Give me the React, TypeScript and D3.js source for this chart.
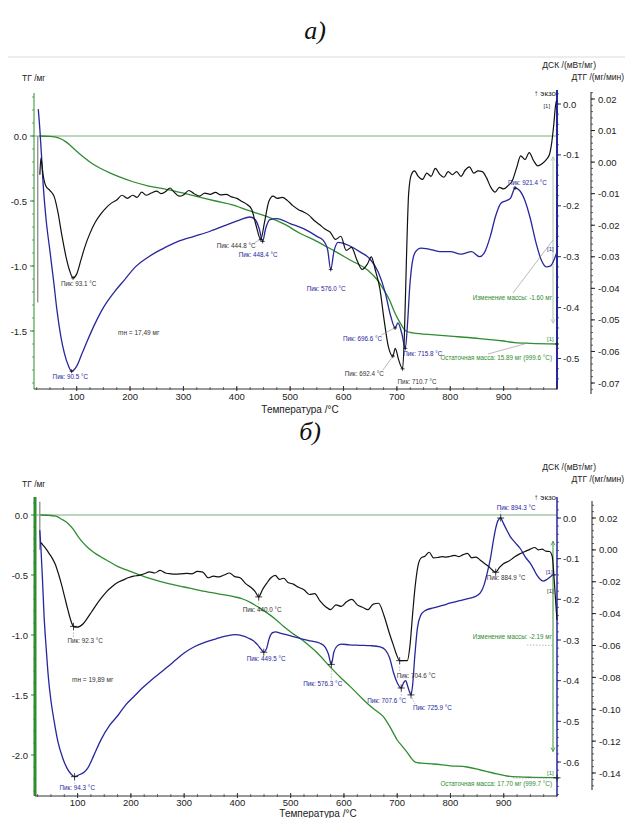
import React from "react";
import * as d3 from "d3";

type Pt = [number, number];

const FONT = "'Liberation Sans', Arial, Helvetica, sans-serif";
const GREEN = "#2f8c2f";
const GREEN_LIGHT = "#78b078";
const BLUE = "#27279c";
const BLACK = "#111111";
const GREY = "#8c8c8c";

// temperature axis (shared)
const tempDomain: Pt = [20, 1000];
const tempTicks = [100, 200, 300, 400, 500, 600, 700, 800, 900];

// ---------------- panel а) ----------------
const aTg: Pt[] = [
  [30, 0], [50, -0.003], [66, -0.015], [80, -0.045], [98, -0.11], [115, -0.17], [128, -0.21],
  [145, -0.25], [160, -0.28], [180, -0.315], [204, -0.35], [235, -0.385], [268, -0.41],
  [300, -0.44], [330, -0.47], [360, -0.5], [392, -0.53], [420, -0.57], [457, -0.62],
  [490, -0.68], [519, -0.75], [550, -0.81], [581, -0.88], [615, -0.96], [645, -1.03],
  [662, -1.1], [675, -1.18], [686, -1.26], [694, -1.34], [705, -1.43], [717, -1.5],
  [730, -1.515], [770, -1.53], [800, -1.54], [834, -1.55], [870, -1.565], [896, -1.575],
  [921, -1.59], [950, -1.595], [1000, -1.6],
];
const aDsc: Pt[] = [
  [28, -0.01], [31, -0.05], [34, -0.1], [37, -0.155], [42, -0.22], [50, -0.29], [57, -0.35],
  [63, -0.405], [70, -0.455], [77, -0.49], [84, -0.513], [90.5, -0.525], [100, -0.515],
  [110, -0.49], [120, -0.465], [135, -0.43], [150, -0.4], [170, -0.37], [190, -0.345],
  [210, -0.32], [235, -0.3], [260, -0.285], [290, -0.27], [320, -0.26], [350, -0.25],
  [380, -0.238], [405, -0.228], [425, -0.222], [435, -0.228], [442, -0.245], [448.4, -0.27],
  [454, -0.245], [462, -0.227], [475, -0.225], [500, -0.235], [525, -0.245], [550, -0.26],
  [562, -0.268], [570, -0.285], [576, -0.325], [582, -0.29], [590, -0.272], [610, -0.278],
  [630, -0.29], [650, -0.305], [665, -0.33], [678, -0.37], [688, -0.415], [696.6, -0.44],
  [702, -0.43], [709, -0.45], [715.8, -0.48], [720, -0.43], [724, -0.36], [729, -0.31],
  [735, -0.29], [745, -0.283], [760, -0.285], [780, -0.29], [800, -0.29], [820, -0.295],
  [840, -0.29], [855, -0.3], [865, -0.29], [875, -0.26], [885, -0.22], [895, -0.195],
  [905, -0.19], [913, -0.185], [921.4, -0.165], [930, -0.17], [940, -0.19], [950, -0.225],
  [960, -0.27], [970, -0.305], [980, -0.32], [988, -0.318], [995, -0.305], [1000, -0.29],
];
const aDtg: Pt[] = [
  [31, -0.004], [33, 0.0013], [37, -0.004], [42, -0.0075], [50, -0.009], [58, -0.011],
  [65, -0.016], [72, -0.023], [80, -0.03], [87, -0.0345], [93.1, -0.0367], [100, -0.0355],
  [108, -0.031], [115, -0.027], [125, -0.0225], [135, -0.019], [145, -0.0165], [155, -0.0145],
  [165, -0.013], [175, -0.012], [185, -0.0105], [195, -0.0115], [205, -0.0105], [213, -0.0112],
  [222, -0.0095], [230, -0.0105], [240, -0.0098], [250, -0.0092], [258, -0.01], [266, -0.0094],
  [275, -0.0082], [283, -0.0096], [292, -0.0108], [300, -0.0104], [310, -0.009], [320, -0.01],
  [330, -0.0108], [340, -0.0098], [350, -0.0102], [360, -0.0096], [370, -0.0104], [380, -0.0102],
  [390, -0.011], [400, -0.0115], [410, -0.0125], [420, -0.0135], [428, -0.015], [436, -0.02],
  [444.8, -0.0245], [452, -0.019], [460, -0.0125], [468, -0.0108], [476, -0.0115], [485, -0.0112],
  [495, -0.0122], [505, -0.0138], [515, -0.015], [525, -0.0158], [535, -0.0168], [545, -0.0185],
  [555, -0.0198], [565, -0.0212], [575, -0.0222], [585, -0.0245], [595, -0.0235], [605, -0.028],
  [615, -0.027], [625, -0.031], [635, -0.034], [645, -0.0322], [652, -0.03], [660, -0.0345],
  [668, -0.04], [676, -0.05], [684, -0.0585], [692.4, -0.0615], [697, -0.059], [703, -0.0625],
  [710.7, -0.0655], [714, -0.055], [718, -0.03], [722, -0.01], [727, -0.004], [733, -0.0028],
  [740, -0.0045], [748, -0.0055], [756, -0.0035], [764, -0.0045], [772, -0.002], [780, -0.0038],
  [788, -0.0048], [796, -0.003], [804, -0.004], [812, -0.003], [820, -0.0045], [828, -0.0025],
  [836, -0.0015], [844, -0.0035], [852, -0.0028], [860, -0.003], [868, -0.005], [876, -0.008],
  [884, -0.0095], [892, -0.008], [900, -0.0085], [908, -0.0075], [916, -0.006], [924, -0.002],
  [932, 0.002], [940, 0.0008], [948, 0.003], [956, 0.0005], [964, -0.0012], [972, -0.0005],
  [980, 0.0008], [986, 0.0025], [990, 0.006], [994, 0.012], [997, 0.0175], [999, 0.0195],
];
const aStartLine: Pt = [0, -1.28];
const aDscPeaks = [90.5, 448.4, 576.0, 696.6, 715.8, 921.4];
const aDtgPeaks = [93.1, 444.8, 692.4, 710.7];
const aTgTicks = [0, -0.5, -1.0, -1.5];
const aDscTicks = [0, -0.1, -0.2, -0.3, -0.4, -0.5];
const aDtgTicks = [0.02, 0.01, 0, -0.01, -0.02, -0.03, -0.04, -0.05, -0.06, -0.07];
const aMassStart = "17,49";
const aMassChange = -1.6;
const aResidualMass = 15.89;
const aResidualTemp = 999.6;

// ---------------- panel б) ----------------
const bTg: Pt[] = [
  [30, 0], [45, -0.002], [59, -0.01], [70, -0.035], [82, -0.07], [92, -0.12], [101, -0.18],
  [110, -0.23], [119, -0.27], [130, -0.31], [144, -0.35], [160, -0.39], [176, -0.43],
  [190, -0.455], [205, -0.48], [220, -0.505], [237, -0.53], [269, -0.57], [300, -0.6],
  [331, -0.63], [362, -0.655], [393, -0.68], [410, -0.7], [425, -0.73], [440, -0.77],
  [457, -0.82], [472, -0.87], [487, -0.93], [503, -0.985], [518, -1.03], [535, -1.09],
  [550, -1.15], [575, -1.27], [595, -1.36], [612, -1.43], [630, -1.51], [644, -1.57],
  [660, -1.63], [674, -1.68], [687, -1.77], [700, -1.875], [710, -1.93], [719, -1.98],
  [727, -2.03], [734, -2.06], [745, -2.068], [768, -2.075], [800, -2.09], [831, -2.1],
  [856, -2.125], [880, -2.15], [906, -2.175], [930, -2.183], [955, -2.186], [1000, -2.19],
];
const bDsc: Pt[] = [
  [29, -0.03], [31, -0.07], [34, -0.15], [37, -0.24], [41, -0.32], [45, -0.39], [50, -0.45],
  [56, -0.5], [63, -0.55], [72, -0.59], [80, -0.615], [88, -0.63], [94.3, -0.636],
  [102, -0.632], [112, -0.625], [119, -0.615], [130, -0.585], [144, -0.545], [160, -0.51],
  [176, -0.485], [190, -0.46], [205, -0.44], [220, -0.42], [237, -0.4], [253, -0.383],
  [269, -0.366], [285, -0.348], [300, -0.332], [320, -0.316], [340, -0.305], [360, -0.297],
  [380, -0.29], [395, -0.287], [410, -0.29], [420, -0.295], [430, -0.302], [438, -0.312],
  [444, -0.322], [449.5, -0.33], [455, -0.32], [460, -0.295], [466, -0.282], [472, -0.28],
  [480, -0.283], [500, -0.29], [520, -0.297], [540, -0.303], [555, -0.308], [565, -0.318],
  [571, -0.335], [576.3, -0.36], [581, -0.33], [587, -0.315], [595, -0.31], [610, -0.312],
  [630, -0.313], [650, -0.314], [668, -0.317], [678, -0.325], [686, -0.345], [693, -0.38],
  [700, -0.405], [707.6, -0.418], [712, -0.405], [716, -0.4], [720, -0.415], [725.9, -0.435],
  [729, -0.41], [733, -0.34], [738, -0.27], [744, -0.24], [752, -0.228], [768, -0.221],
  [785, -0.215], [800, -0.209], [815, -0.204], [831, -0.199], [845, -0.194], [856, -0.184],
  [863, -0.165], [869, -0.135], [875, -0.1], [880, -0.06], [885, -0.025], [889, -0.007],
  [894.3, 0], [899, -0.012], [905, -0.028], [912, -0.045], [921, -0.06], [931, -0.075],
  [940, -0.095], [949, -0.11], [956, -0.125], [962, -0.14], [968, -0.15], [974, -0.155],
  [980, -0.152], [987, -0.145], [993, -0.14], [998, -0.14],
];
const bDtg: Pt[] = [
  [31, 0.0045], [35, 0.003], [40, 0.001], [46, -0.002], [52, -0.005], [58, -0.009],
  [64, -0.015], [70, -0.022], [76, -0.03], [82, -0.038], [87, -0.044], [92.3, -0.048],
  [98, -0.0485], [104, -0.048], [110, -0.0465], [118, -0.043], [126, -0.039], [135, -0.0345],
  [145, -0.03], [155, -0.026], [165, -0.023], [175, -0.0205], [185, -0.019], [195, -0.0175],
  [205, -0.0165], [215, -0.016], [225, -0.015], [235, -0.0138], [245, -0.0145], [255, -0.0128],
  [265, -0.0145], [275, -0.015], [285, -0.0152], [295, -0.015], [305, -0.0148], [315, -0.015],
  [325, -0.0135], [335, -0.014], [345, -0.0175], [355, -0.0165], [365, -0.017], [375, -0.0158],
  [385, -0.0145], [395, -0.0168], [405, -0.0175], [415, -0.021], [425, -0.0235], [433, -0.026],
  [440, -0.0295], [447, -0.025], [455, -0.021], [463, -0.0175], [471, -0.016], [479, -0.0185],
  [487, -0.0178], [495, -0.0205], [505, -0.0215], [515, -0.0235], [525, -0.025], [535, -0.028],
  [545, -0.0275], [555, -0.032], [565, -0.0355], [575, -0.0375], [585, -0.0345], [595, -0.0355],
  [605, -0.0325], [615, -0.031], [625, -0.0345], [635, -0.036], [645, -0.0375], [655, -0.034],
  [665, -0.0335], [675, -0.041], [685, -0.052], [692, -0.059], [698, -0.065], [704.6, -0.0695],
  [712, -0.0695], [719, -0.0695], [724, -0.06], [729, -0.04], [734, -0.022], [739, -0.01],
  [745, -0.005], [752, -0.004], [760, -0.0015], [768, -0.005], [776, -0.0048], [784, -0.0042],
  [792, -0.0045], [800, -0.004], [808, -0.0035], [816, -0.0042], [824, -0.003], [832, -0.0022],
  [840, -0.005], [848, -0.0045], [856, -0.0065], [864, -0.0085], [872, -0.0105], [878, -0.0125],
  [884.9, -0.014], [892, -0.011], [900, -0.0085], [910, -0.007], [920, -0.0045], [930, -0.0025],
  [940, -0.001], [950, 0.0005], [958, 0.0015], [965, 0], [972, 0.0005], [979, -0.0008],
  [986, -0.001], [991, -0.004], [995, -0.02], [998, -0.035], [1000, -0.044],
];
const bStartLine: Pt = [0.11, -0.29];
const bDscPeaks = [94.3, 449.5, 576.3, 707.6, 725.9, 894.3];
const bDtgPeaks = [92.3, 440.0, 704.6, 884.9];
const bTgTicks = [0, -0.5, -1.0, -1.5, -2.0];
const bDscTicks = [0, -0.1, -0.2, -0.3, -0.4, -0.5, -0.6];
const bDtgTicks = [0.02, 0, -0.02, -0.04, -0.06, -0.08, -0.1, -0.12, -0.14];
const bMassStart = "19,89";
const bMassChange = -2.19;
const bResidualMass = 17.7;
const bResidualTemp = 999.7;

// label layout (offsets from the peak, px)
const aDscLabelOff: Pt[] = [[-19, 8], [-24, 16], [-24, 22], [-52, 13], [-2, 8], [-7, -3]];
const aDscLeader = [false, false, false, true, false, true];
const aDtgLabelOff: Pt[] = [[-12, 8], [-44, 9], [-48, 20], [-5, 15]];
const aDtgLeader = [false, true, true, false];
const bDscLabelOff: Pt[] = [[-15, 13], [-17, 9], [-28, 22], [-34, 15], [2, 15], [-4, -8]];
const bDscLeader = [true, false, true, true, true, true];
const bDtgLabelOff: Pt[] = [[-6, 17], [-16, 15], [-3, 17], [-9, 8]];
const bDtgLeader = [true, true, true, true];

function valueAt(pts: Pt[], t: number) {
  const i = d3.bisector((d: Pt) => d[0]).left(pts, t);
  if (i <= 0) return pts[0][1];
  if (i >= pts.length) return pts[pts.length - 1][1];
  const [t0, v0] = pts[i - 1];
  const [t1, v1] = pts[i];
  return t1 === t0 ? v1 : v0 + ((v1 - v0) * (t - t0)) / (t1 - t0);
}

function steps(lo: number, hi: number, step: number) {
  const a = Math.ceil(lo / step - 1e-6);
  const b = Math.floor(hi / step + 1e-6);
  return d3.range(a, b + 1).map((k) => k * step);
}

function Panel(p: any) {
  const x = d3.scaleLinear().domain(tempDomain).range([p.left, p.right]);
  const tg = d3.scaleLinear().domain(p.tgDom).range(p.tgRange);
  const dsc = d3.scaleLinear().domain(p.dscDom).range(p.dscRange);
  const dtg = d3.scaleLinear().domain(p.dtgDom).range(p.dtgRange);
  const mk = (sc: any) =>
    d3.line<Pt>().x((d) => x(d[0])).y((d) => sc(d[1])).curve(d3.curveMonotoneX);

  const peakLabels = (peaks: number[], pts: Pt[], sc: any, off: Pt[], lead: boolean[], color: string, dash: string) =>
    peaks.map((t, i) => {
      const px = x(t);
      const py = sc(valueAt(pts, t));
      const lx = px + off[i][0];
      const ly = py + off[i][1];
      const cx = Math.max(lx + 2, Math.min(lx + 38, px));
      const cy = off[i][1] > 0 ? ly - 6 : ly + 1;
      return (
        <g key={"pk" + t}>
          {lead[i] && (
            <line x1={px} y1={py} x2={cx} y2={cy} stroke={GREY} strokeWidth={0.6} strokeDasharray={dash} />
          )}
          <path d={`M${px - p.plus},${py}H${px + p.plus}M${px},${py - p.plus}V${py + p.plus}`} stroke={BLACK} strokeWidth={0.8} />
          <text x={lx} y={ly} fontSize={6.3} fill={color} fontFamily={FONT}>{`Пик: ${t.toFixed(1)} °C`}</text>
        </g>
      );
    });

  // axis ticks
  const tgMinor = steps(tg.invert(p.bottom), tg.invert(p.top), 0.1);
  const dscMinor = steps(dsc.invert(p.bottom), dsc.invert(p.dscTop), 0.02);
  const dtgMinor = steps(dtg.invert(p.dtgBottom), dtg.invert(p.dtgTop), p.dtgMinor);
  const tMinor = steps(tempDomain[0], tempDomain[1], 25);
  const arrowTop = tg(p.massChange * 0.1);
  const arrowBot = tg(p.massChange * 0.9);
  const ax = p.right - 4;
  const tgEnd = p.tg[p.tg.length - 1];
  const dscEnd = p.dsc[p.dsc.length - 1];
  const dtgEnd = p.dtg[p.dtg.length - 1];

  return (
    <g>
      {/* header */}
      <text x={p.headerX} y={p.headerY} fontSize={26} fontStyle="italic" fontFamily="'Liberation Serif', 'DejaVu Serif', serif" textAnchor="middle" fill="#111">{p.header}</text>
      {/* axis titles */}
      <text x={22} y={p.tgTitleY} fontSize={8.5} fontFamily={FONT} fill="#222">ТГ /мг</text>
      <text x={596} y={p.dscTitleY} fontSize={8.5} fontFamily={FONT} fill="#222" textAnchor="end">ДСК /(мВт/мг)</text>
      <text x={624} y={p.dscTitleY + 12} fontSize={8.5} fontFamily={FONT} fill="#222" textAnchor="end">ДТГ /(мг/мин)</text>
      <text x={p.right - 1} y={p.exoY} fontSize={8} fontFamily={FONT} fill="#222" textAnchor="end">↑ экзо</text>

      {/* zero line of TG */}
      <line x1={p.left} x2={p.right} y1={tg(0)} y2={tg(0)} stroke={GREEN_LIGHT} strokeWidth={1} />

      {/* left TG axis */}
      <line x1={p.left} x2={p.left} y1={p.top} y2={p.bottom} stroke={GREEN} strokeWidth={p.tgAxisW} />
      {tgMinor.map((v) => (
        <line key={"tgm" + v} x1={p.left} x2={p.left - 2} y1={tg(v)} y2={tg(v)} stroke={GREEN} strokeWidth={0.7} />
      ))}
      {p.tgTicks.map((v: number) => (
        <g key={"tg" + v}>
          <line x1={p.left} x2={p.left - 4} y1={tg(v)} y2={tg(v)} stroke={GREEN} strokeWidth={1} />
          <text x={p.left - 7} y={tg(v) + 3.5} fontSize={9.5} fontFamily={FONT} fill="#222" textAnchor="end">{v.toFixed(1)}</text>
        </g>
      ))}

      {/* DSC axis */}
      <line x1={p.right} x2={p.right} y1={p.dscTop} y2={p.bottom} stroke={BLUE} strokeWidth={p.dscAxisW} />
      {dscMinor.map((v) => (
        <line key={"dm" + v} x1={p.right} x2={p.right + 2} y1={dsc(v)} y2={dsc(v)} stroke={BLUE} strokeWidth={0.7} />
      ))}
      {p.dscTicks.map((v: number) => (
        <g key={"ds" + v}>
          <line x1={p.right} x2={p.right + 4} y1={dsc(v)} y2={dsc(v)} stroke={BLUE} strokeWidth={1} />
          <text x={p.right + 6} y={dsc(v) + 3.5} fontSize={9.5} fontFamily={FONT} fill="#222">{v.toFixed(1)}</text>
        </g>
      ))}

      {/* DTG axis */}
      <line x1={p.dtgX} x2={p.dtgX} y1={p.dtgTop} y2={p.dtgBottom} stroke="#222" strokeWidth={1} />
      {dtgMinor.map((v) => (
        <line key={"tm" + v} x1={p.dtgX} x2={p.dtgX + 2} y1={dtg(v)} y2={dtg(v)} stroke="#222" strokeWidth={0.7} />
      ))}
      {p.dtgTicks.map((v: number) => (
        <g key={"dt" + v}>
          <line x1={p.dtgX} x2={p.dtgX + 4} y1={dtg(v)} y2={dtg(v)} stroke="#222" strokeWidth={1} />
          <text x={p.dtgX + 7} y={dtg(v) + 3.5} fontSize={9.5} fontFamily={FONT} fill="#222">{v.toFixed(2)}</text>
        </g>
      ))}

      {/* temperature axis */}
      <line x1={p.left} x2={p.right} y1={p.bottom} y2={p.bottom} stroke="#333" strokeWidth={1} />
      {tMinor.map((t) => (
        <line key={"xm" + t} x1={x(t)} x2={x(t)} y1={p.bottom - 2} y2={p.bottom + 1} stroke="#333" strokeWidth={0.7} />
      ))}
      {tempTicks.map((t) => (
        <g key={"x" + t}>
          <line x1={x(t)} x2={x(t)} y1={p.bottom - 3} y2={p.bottom + 2} stroke="#333" strokeWidth={1} />
          <text x={x(t)} y={p.bottom + p.xLabelDy} fontSize={9.5} fontFamily={FONT} fill="#222" textAnchor="middle">{t}</text>
        </g>
      ))}
      <text x={p.xTitleX} y={p.bottom + p.xTitleDy} fontSize={10} fontFamily={FONT} fill="#222" textAnchor="middle">Температура /°C</text>

      {/* start transient */}
      <line x1={x(p.startT)} x2={x(p.startT)} y1={tg(p.startLine[0])} y2={tg(p.startLine[1])} stroke={GREY} strokeWidth={1.3} />

      {/* mass change bracket */}
      <line x1={ax} x2={ax} y1={arrowTop} y2={arrowBot} stroke={p.arrowColor} strokeWidth={1} />
      <path d={`M${ax - 2},${arrowTop + 4}L${ax},${arrowTop}L${ax + 2},${arrowTop + 4}M${ax - 2},${arrowBot - 4}L${ax},${arrowBot}L${ax + 2},${arrowBot - 4}`} fill="none" stroke={p.arrowColor} strokeWidth={0.8} />

      {/* curves */}
      <path d={mk(tg)(p.tg) || ""} fill="none" stroke={GREEN} strokeWidth={1.3} />
      <path d={mk(dsc)(p.dsc) || ""} fill="none" stroke={BLUE} strokeWidth={1.3} />
      <path d={mk(dtg)(p.dtg) || ""} fill="none" stroke={BLACK} strokeWidth={1.2} />

      {/* end markers */}
      <text x={x(dtgEnd[0]) + p.oneDtg[0]} y={dtg(dtgEnd[1]) + p.oneDtg[1]} fontSize={6} fontFamily={FONT} fill="#333">[1]</text>
      <text x={x(dscEnd[0]) - 10} y={dsc(dscEnd[1]) - 1} fontSize={6} fontFamily={FONT} fill={BLUE}>[1]</text>
      <text x={x(tgEnd[0]) - 10} y={tg(tgEnd[1]) - 3} fontSize={6} fontFamily={FONT} fill={GREEN}>[1]</text>
      <path d={`M${x(tgEnd[0]) - p.plus},${tg(tgEnd[1])}H${x(tgEnd[0]) + p.plus}M${x(tgEnd[0])},${tg(tgEnd[1]) - p.plus}V${tg(tgEnd[1]) + p.plus}`} stroke={BLACK} strokeWidth={0.8} />

      {/* peak labels */}
      {peakLabels(p.dtgPeaks, p.dtg, dtg, p.dtgOff, p.dtgLead, "#333", p.dash)}
      {peakLabels(p.dscPeaks, p.dsc, dsc, p.dscOff, p.dscLead, BLUE, p.dash)}

      {/* mass annotations */}
      <text x={p.massStartPos[0]} y={p.massStartPos[1]} fontSize={6.5} fontFamily={FONT} fill="#333">{`mн = ${p.massStart} мг`}</text>
      <line x1={p.changeLead[0]} y1={p.changeLead[1]} x2={ax} y2={tg(p.massChange / 2) + p.changeLead[2]} stroke={GREY} strokeWidth={0.6} strokeDasharray={p.dash} />
      <text x={ax - 1} y={p.changeY} fontSize={6.3} fontFamily={FONT} fill={GREEN} textAnchor="end">{`Изменение массы: ${p.massChange.toFixed(2)} мг`}</text>
      <line x1={p.restLead[0]} y1={p.restLead[1]} x2={p.restLead[2]} y2={p.restLead[3]} stroke={GREY} strokeWidth={0.6} strokeDasharray={p.dash} />
      <text x={ax - 1} y={p.restY} fontSize={6.3} fontFamily={FONT} fill={GREEN} textAnchor="end">{`Остаточная масса: ${p.residualMass.toFixed(2)} мг (${p.residualTemp.toFixed(1)} °C)`}</text>
    </g>
  );
}

export default function App() {
  return (
    <svg width={625} height={818} style={{ position: "absolute", left: 0, top: 0, background: "#fff" }}>
      <rect width={625} height={818} fill="#fff" />
      <line x1={8} x2={625} y1={57} y2={57} stroke="#dcdcdc" strokeWidth={1.2} />
      <Panel
        left={34} right={557} dtgX={591}
        header="а)" headerX={315} headerY={39}
        tgTitleY={81} dscTitleY={68} exoY={96}
        top={93} bottom={389} dscTop={90} dtgTop={92} dtgBottom={394}
        tgDom={[0, -1.5]} tgRange={[136, 331]}
        dscDom={[0, -0.5]} dscRange={[104, 358.5]}
        dtgDom={[0.02, -0.07]} dtgRange={[99, 383]} dtgMinor={0.002}
        tgAxisW={1} dscAxisW={2}
        tg={aTg} dsc={aDsc} dtg={aDtg}
        tgTicks={aTgTicks} dscTicks={aDscTicks} dtgTicks={aDtgTicks}
        dscPeaks={aDscPeaks} dtgPeaks={aDtgPeaks}
        dscOff={aDscLabelOff} dscLead={aDscLeader} dtgOff={aDtgLabelOff} dtgLead={aDtgLeader}
        startT={27} startLine={aStartLine}
        massStart={aMassStart} massChange={aMassChange} residualMass={aResidualMass} residualTemp={aResidualTemp}
        massStartPos={[118, 335]} changeY={300} changeLead={[513, 293, 0]} restY={360} restLead={[488, 354, 528, 343]}
        xLabelDy={11} xTitleDy={23.5} xTitleX={300} plus={2} dash="none" arrowColor="#a9c9a9"
        oneDtg={[-13, 7]}
      />
      <Panel
        left={35} right={557} dtgX={592}
        header="б)" headerX={310} headerY={440}
        tgTitleY={487} dscTitleY={470} exoY={500}
        top={497} bottom={796} dscTop={497} dtgTop={501} dtgBottom={790}
        tgDom={[0, -2]} tgRange={[515, 755]}
        dscDom={[0, -0.6]} dscRange={[518, 762]}
        dtgDom={[0.02, -0.14]} dtgRange={[518, 773]} dtgMinor={0.004}
        tgAxisW={3} dscAxisW={1.5}
        tg={bTg} dsc={bDsc} dtg={bDtg}
        tgTicks={bTgTicks} dscTicks={bDscTicks} dtgTicks={bDtgTicks}
        dscPeaks={bDscPeaks} dtgPeaks={bDtgPeaks}
        dscOff={bDscLabelOff} dscLead={bDscLeader} dtgOff={bDtgLabelOff} dtgLead={bDtgLeader}
        startT={29} startLine={bStartLine}
        massStart={bMassStart} massChange={bMassChange} residualMass={bResidualMass} residualTemp={bResidualTemp}
        massStartPos={[72, 682]} changeY={639} changeLead={[527, 645, -1]} restY={786} restLead={[513, 778, 547, 778]}
        xLabelDy={10} xTitleDy={21} xTitleX={318} plus={3.5} dash="1.5,1.5" arrowColor="#3d8f3d"
        oneDtg={[-10, -27]}
      />
    </svg>
  );
}
